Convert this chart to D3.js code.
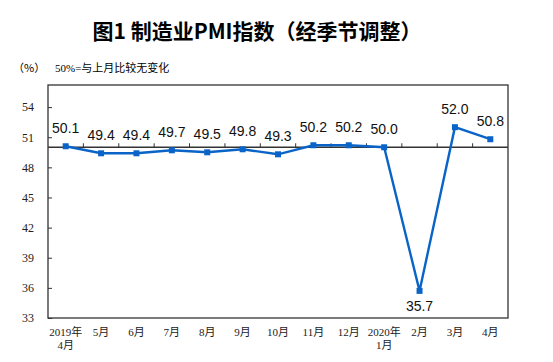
<!DOCTYPE html>
<html>
<head>
<meta charset="utf-8">
<script src="https://cdn.jsdelivr.net/npm/d3@7"></script>
<style>
body { margin: 0; background: #fff; }
</style>
</head>
<body>
<svg id="chart" width="553" height="362"></svg>
<script>
"use strict";

var months = ["4月", "5月", "6月", "7月", "8月", "9月", "10月", "11月", "12月", "1月", "2月", "3月", "4月"];
var yearPrefix = ["2019年", "", "", "", "", "", "", "", "", "2020年", "", "", ""];
var pmi = [50.1, 49.4, 49.4, 49.7, 49.5, 49.8, 49.3, 50.2, 50.2, 50.0, 35.7, 52.0, 50.8];
var yTicks = [33, 36, 39, 42, 45, 48, 51, 54];

var Chart = (function(){
	var svg = {},
		left = 48, right = 508, top = 85, bottom = 318,
		blue = "#0a64c8";

	function init(el) {
		svg = d3.select("#" + el);
		drawTitle();
		drawAxes();
		drawLine();
	}

	function drawTitle() {
		svg.append("text")
			.attr("x", 257).attr("y", 39)
			.attr("text-anchor", "middle")
			.style("font-family", "'Noto Sans CJK SC', sans-serif")
			.style("font-weight", "bold")
			.style("font-size", "21px")
			.text("图1  制造业PMI指数（经季节调整）");

		svg.append("text")
			.attr("x", 13).attr("y", 72)
			.style("font-family", "'Noto Sans CJK SC', sans-serif")
			.style("font-size", "11px")
			.text("（%）");

		svg.append("text")
			.attr("x", 55).attr("y", 72)
			.style("font-family", "'Liberation Serif', 'Noto Sans CJK SC', serif")
			.style("font-size", "11px")
			.text("50%=与上月比较无变化");
	}

	var x = d3.scaleBand().domain(d3.range(pmi.length)).range([left, right]);
	var y = d3.scaleLinear().domain([33, 56.2]).range([bottom, top]);

	function drawAxes() {
		svg.append("rect")
			.attr("x", left).attr("y", top)
			.attr("width", right - left).attr("height", bottom - top)
			.attr("fill", "none").attr("stroke", "#333").attr("stroke-width", 1.3);

		var yAxis = svg.append("g")
			.attr("transform", "translate(" + left + ",0)")
			.call(d3.axisLeft(y).tickValues(yTicks).tickSize(-4).tickPadding(14));
		yAxis.select(".domain").remove();
		yAxis.selectAll("line").attr("stroke", "#333");
		yAxis.selectAll("text")
			.style("font-family", "'Liberation Serif', serif")
			.style("font-size", "12px")
			.attr("fill", "#222");

		// 50 reference line acting as the category axis
		var y50 = y(50);
		svg.append("line")
			.attr("x1", left).attr("x2", right)
			.attr("y1", y50).attr("y2", y50)
			.attr("stroke", "#333").attr("stroke-width", 1.3);

		svg.selectAll(".xtick")
			.data(d3.range(1, pmi.length))
			.enter()
			.append("line")
			.attr("class", "xtick")
			.attr("x1", function(d) { return x(d); })
			.attr("x2", function(d) { return x(d); })
			.attr("y1", y50).attr("y2", y50 - 4)
			.attr("stroke", "#333");

		var labels = svg.selectAll(".xlabel")
			.data(months)
			.enter()
			.append("text")
			.attr("class", "xlabel")
			.attr("text-anchor", "middle")
			.attr("transform", function(d, i) {
				return "translate(" + (x(i) + x.bandwidth() / 2) + "," + 336 + ")";
			})
			.style("font-family", "'Liberation Serif', 'Noto Sans CJK SC', serif")
			.style("font-size", "11px")
			.attr("fill", "#222");

		labels.each(function(d, i) {
			var t = d3.select(this);
			if (yearPrefix[i]) {
				t.append("tspan").attr("x", 0).attr("y", 0).text(yearPrefix[i]);
				t.append("tspan").attr("x", 0).attr("y", 13).text(d);
			} else {
				t.append("tspan").attr("x", 0).attr("y", 0).text(d);
			}
		});
	}

	function drawLine() {
		var cx = function(d, i) { return x(i) + x.bandwidth() / 2; };
		var line = d3.line()
			.x(cx)
			.y(function(d) { return y(d); });

		svg.append("path")
			.datum(pmi)
			.attr("d", line)
			.attr("fill", "none")
			.attr("stroke", blue)
			.attr("stroke-width", 2.4);

		svg.selectAll(".pt")
			.data(pmi)
			.enter()
			.append("rect")
			.attr("class", "pt")
			.attr("x", function(d, i) { return cx(d, i) - 3; })
			.attr("y", function(d) { return y(d) - 3; })
			.attr("width", 6).attr("height", 6)
			.attr("fill", blue);

		svg.selectAll(".val")
			.data(pmi)
			.enter()
			.append("text")
			.attr("class", "val")
			.attr("text-anchor", "middle")
			.attr("x", cx)
			.attr("y", function(d, i) {
				if (d < 40) return y(d) + 20;
				return y(d) - 13;
			})
			.style("font-family", "'Liberation Sans', Arial, sans-serif")
			.style("font-size", "14px")
			.attr("fill", "#111")
			.text(function(d) { return d.toFixed(1); });
	}

	return {
		"init": init
	};
}());

Chart.init("chart");
</script>
</body>
</html>
